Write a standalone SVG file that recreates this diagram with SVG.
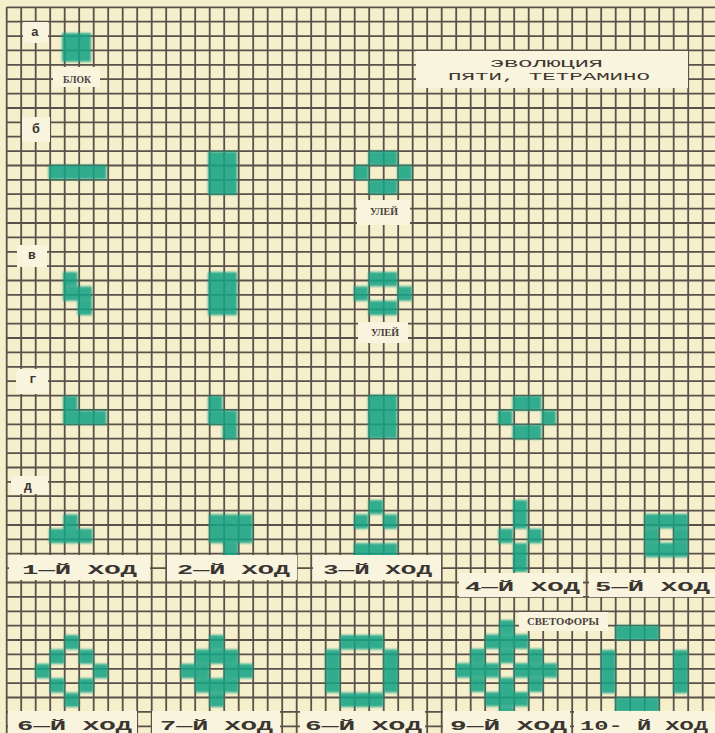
<svg xmlns="http://www.w3.org/2000/svg" width="715" height="733" viewBox="0 0 715 733">
<defs>
<style>
.grid{stroke:#5a514a;stroke-width:1.8;fill:none}
.t{fill:#17a385}
.lb{fill:#f8f4dd}
.mono{font-family:"Liberation Mono","DejaVu Sans Mono",monospace;font-weight:bold;fill:#3b3531}
.ttl{font-family:"Liberation Mono","DejaVu Sans Mono",monospace;font-size:10.5px;fill:#3f3833}
.ser{font-family:"Liberation Serif","DejaVu Serif",serif;font-weight:bold;fill:#4a423d;font-size:9.5px}
.let{font-family:"Liberation Mono","DejaVu Sans Mono",monospace;font-weight:bold;fill:#3b3531;font-size:13px;text-anchor:middle}
</style>
<filter id="soft" x="-5%" y="-5%" width="110%" height="110%"><feGaussianBlur stdDeviation="0.9"/></filter>
</defs>
<rect width="715" height="733" fill="#f5f0cb"/>
<g id="grid" class="grid">
<path d="M6.7 7.3V733M21.2 7.3V733M35.7 7.3V733M50.2 7.3V733M64.7 7.3V733M79.2 7.3V733M93.7 7.3V733M108.2 7.3V733M122.7 7.3V733M137.2 7.3V733M151.7 7.3V733M166.2 7.3V733M180.7 7.3V733M195.2 7.3V733M209.7 7.3V733M224.2 7.3V733M238.7 7.3V733M253.2 7.3V733M267.7 7.3V733M282.2 7.3V733M296.7 7.3V733M311.2 7.3V733M325.7 7.3V733M340.2 7.3V733M354.7 7.3V733M369.2 7.3V733M383.7 7.3V733M398.2 7.3V733M412.7 7.3V733M427.2 7.3V733M441.7 7.3V733M456.2 7.3V733M470.7 7.3V733M485.2 7.3V733M499.7 7.3V733M514.2 7.3V733M528.7 7.3V733M543.2 7.3V733M557.7 7.3V733M572.2 7.3V733M586.7 7.3V733M601.2 7.3V733M615.7 7.3V733M630.2 7.3V733M644.7 7.3V733M659.2 7.3V733M673.7 7.3V733M688.2 7.3V733M702.7 7.3V733"/>
<path d="M6.7 7.3H715M6.7 21.7H715M6.7 36.1H715M6.7 50.4H715M6.7 64.8H715M6.7 79.2H715M6.7 93.6H715M6.7 108H715M6.7 122.3H715M6.7 136.7H715M6.7 151.1H715M6.7 165.5H715M6.7 179.9H715M6.7 194.2H715M6.7 208.6H715M6.7 223H715M6.7 237.4H715M6.7 251.8H715M6.7 266.1H715M6.7 280.5H715M6.7 294.9H715M6.7 309.3H715M6.7 323.7H715M6.7 338H715M6.7 352.4H715M6.7 366.8H715M6.7 381.2H715M6.7 395.6H715M6.7 409.9H715M6.7 424.3H715M6.7 438.7H715M6.7 453.1H715M6.7 467.5H715M6.7 481.8H715M6.7 496.2H715M6.7 510.6H715M6.7 525H715M6.7 539.4H715M6.7 553.7H715M6.7 568.1H715M6.7 582.5H715M6.7 596.9H715M6.7 611.3H715M6.7 625.6H715M6.7 640H715M6.7 654.4H715M6.7 668.8H715M6.7 683.2H715M6.7 697.5H715M6.7 711.9H715M6.7 726.3H715"/>
</g>
<g id="shapes" filter="url(#soft)" opacity="0.88">
<g id="a-block"><rect class="t" x="62" y="33" width="29" height="28.8"/></g>
<g id="b-line"><rect class="t" x="48.5" y="165" width="58" height="14.4"/></g>
<g id="b-gen1"><rect class="t" x="208" y="151.5" width="29" height="43.2"/></g>
<g id="b-hive"><rect class="t" x="368.5" y="151" width="29" height="14.4"/><rect class="t" x="354" y="165.4" width="14.5" height="14.4"/><rect class="t" x="397.5" y="165.4" width="14.5" height="14.4"/><rect class="t" x="368.5" y="179.8" width="29" height="14.4"/></g>
<g id="v-s"><rect class="t" x="63" y="272" width="14.5" height="14.4"/><rect class="t" x="63" y="286.4" width="29" height="14.4"/><rect class="t" x="77.5" y="300.8" width="14.5" height="14.4"/></g>
<g id="v-gen1"><rect class="t" x="208" y="272" width="29" height="43.2"/></g>
<g id="v-hive"><rect class="t" x="368.5" y="272" width="29" height="14.4"/><rect class="t" x="354" y="286.4" width="14.5" height="14.4"/><rect class="t" x="397.5" y="286.4" width="14.5" height="14.4"/><rect class="t" x="368.5" y="300.8" width="29" height="14.4"/></g>
<g id="g-l"><rect class="t" x="63" y="396" width="14.5" height="14.4"/><rect class="t" x="63" y="410.4" width="43.5" height="14.4"/></g>
<g id="g-s"><rect class="t" x="208" y="396" width="14.5" height="14.4"/><rect class="t" x="208" y="410.4" width="29" height="14.4"/><rect class="t" x="222.5" y="424.8" width="14.5" height="14.4"/></g>
<g id="g-block"><rect class="t" x="368" y="395" width="29" height="43.2"/></g>
<g id="g-hive"><rect class="t" x="512.5" y="396" width="29" height="14.4"/><rect class="t" x="498" y="410.4" width="14.5" height="14.4"/><rect class="t" x="541.5" y="410.4" width="14.5" height="14.4"/><rect class="t" x="512.5" y="424.8" width="29" height="14.4"/></g>
<g id="d-1"><rect class="t" x="63.5" y="514.4" width="14.5" height="14.4"/><rect class="t" x="49" y="528.8" width="43.5" height="14.4"/></g>
<g id="d-2"><rect class="t" x="209" y="514.4" width="43.5" height="28.8"/><rect class="t" x="223.5" y="543.2" width="14.5" height="14.4"/></g>
<g id="d-3"><rect class="t" x="368.5" y="500" width="14.5" height="14.4"/><rect class="t" x="354" y="514.4" width="14.5" height="14.4"/><rect class="t" x="383" y="514.4" width="14.5" height="14.4"/><rect class="t" x="354" y="543.2" width="43.5" height="14.4"/></g>
<g id="d-4"><rect class="t" x="513" y="500" width="14.5" height="28.8"/><rect class="t" x="498.5" y="528.8" width="14.5" height="14.4"/><rect class="t" x="527.5" y="528.8" width="14.5" height="14.4"/><rect class="t" x="513" y="543.2" width="14.5" height="28.8"/></g>
<g id="d-5"><rect class="t" x="644.5" y="514" width="43.5" height="14.4"/><rect class="t" x="644.5" y="528.4" width="14.5" height="14.4"/><rect class="t" x="673.5" y="528.4" width="14.5" height="14.4"/><rect class="t" x="644.5" y="542.8" width="43.5" height="14.4"/></g>
<g id="d-6"><rect class="t" x="64.5" y="635" width="14.5" height="14.4"/><rect class="t" x="50" y="649.4" width="14.5" height="14.4"/><rect class="t" x="79" y="649.4" width="14.5" height="14.4"/><rect class="t" x="35.5" y="663.8" width="14.5" height="14.4"/><rect class="t" x="93.5" y="663.8" width="14.5" height="14.4"/><rect class="t" x="50" y="678.2" width="14.5" height="14.4"/><rect class="t" x="79" y="678.2" width="14.5" height="14.4"/><rect class="t" x="64.5" y="692.6" width="14.5" height="14.4"/></g>
<g id="d-7"><rect class="t" x="209.5" y="635" width="14.5" height="14.4"/><rect class="t" x="195" y="649.4" width="43.5" height="14.4"/><rect class="t" x="180.5" y="663.8" width="29" height="14.4"/><rect class="t" x="224" y="663.8" width="29" height="14.4"/><rect class="t" x="195" y="678.2" width="43.5" height="14.4"/><rect class="t" x="209.5" y="692.6" width="14.5" height="14.4"/></g>
<g id="d-8"><rect class="t" x="340" y="635" width="43.5" height="14.4"/><rect class="t" x="325.5" y="649.4" width="14.5" height="43.2"/><rect class="t" x="383.5" y="649.4" width="14.5" height="43.2"/><rect class="t" x="340" y="692.6" width="43.5" height="14.4"/></g>
<g id="d-9"><rect class="t" x="499.5" y="620" width="14.5" height="14.4"/><rect class="t" x="485" y="634.4" width="43.5" height="14.4"/><rect class="t" x="470.5" y="648.8" width="14.5" height="14.4"/><rect class="t" x="499.5" y="648.8" width="14.5" height="14.4"/><rect class="t" x="528.5" y="648.8" width="14.5" height="14.4"/><rect class="t" x="456" y="663.2" width="43.5" height="14.4"/><rect class="t" x="514" y="663.2" width="43.5" height="14.4"/><rect class="t" x="470.5" y="677.6" width="14.5" height="14.4"/><rect class="t" x="499.5" y="677.6" width="14.5" height="14.4"/><rect class="t" x="528.5" y="677.6" width="14.5" height="14.4"/><rect class="t" x="485" y="692" width="43.5" height="14.4"/><rect class="t" x="499.5" y="706.4" width="14.5" height="14.4"/></g>
<g id="d-10"><rect class="t" x="615.5" y="625.5" width="43.5" height="14.4"/><rect class="t" x="601" y="650" width="14.5" height="43.2"/><rect class="t" x="673.5" y="650" width="14.5" height="43.2"/><rect class="t" x="615.5" y="697.5" width="43.5" height="14.4"/></g>
</g>
<g id="labels">
<g id="lbl-a"><rect class="lb" x="23" y="22" width="25" height="21"/><text class="let" x="35" y="36">а</text></g>
<g id="lbl-blok"><rect class="lb" x="53" y="67" width="47" height="20"/><text class="ser" x="63" y="83" textLength="28" lengthAdjust="spacingAndGlyphs">БЛОК</text></g>
<g id="title"><rect class="lb" x="416" y="51" width="272" height="37"/><text class="ttl" x="490" y="67" textLength="113" lengthAdjust="spacingAndGlyphs">ЭВОЛЮЦИЯ</text><text class="ttl" x="448" y="79.5" textLength="202" lengthAdjust="spacingAndGlyphs">ПЯТИ, ТЕТРАМИНО</text></g>
<g id="lbl-b"><rect class="lb" x="22" y="117" width="28" height="25"/><text class="let" x="36" y="133">б</text></g>
<g id="lbl-hive1"><rect class="lb" x="357" y="200" width="53" height="25"/><text class="ser" x="370" y="214.5" textLength="28" lengthAdjust="spacingAndGlyphs">УЛЕЙ</text></g>
<g id="lbl-v"><rect class="lb" x="17" y="245" width="30" height="22"/><text class="let" x="32" y="259">в</text></g>
<g id="lbl-hive2"><rect class="lb" x="358" y="322" width="50" height="21"/><text class="ser" x="371" y="335.5" textLength="28" lengthAdjust="spacingAndGlyphs">УЛЕЙ</text></g>
<g id="lbl-g"><rect class="lb" x="16" y="369" width="32" height="25"/><text class="let" x="33" y="383">г</text></g>
<g id="lbl-d"><rect class="lb" x="11" y="476" width="37" height="18"/><text class="let" x="28" y="490">д</text></g>
<g id="lbl-1"><rect class="lb" x="9" y="555" width="141" height="25"/><text class="mono" font-size="13" x="22" y="574" textLength="115" lengthAdjust="spacingAndGlyphs">1—Й ХОД</text></g>
<g id="lbl-2"><rect class="lb" x="167" y="555" width="130" height="25"/><text class="mono" font-size="13" x="177" y="574" textLength="113" lengthAdjust="spacingAndGlyphs">2—Й ХОД</text></g>
<g id="lbl-3"><rect class="lb" x="313" y="555" width="128" height="25"/><text class="mono" font-size="13" x="323" y="574" textLength="109" lengthAdjust="spacingAndGlyphs">3—Й ХОД</text></g>
<g id="lbl-4"><rect class="lb" x="459" y="573" width="124" height="24"/><text class="mono" font-size="13" x="465" y="591" textLength="115" lengthAdjust="spacingAndGlyphs">4—Й ХОД</text></g>
<g id="lbl-5"><rect class="lb" x="589" y="573" width="126" height="24"/><text class="mono" font-size="13" x="595" y="591" textLength="115" lengthAdjust="spacingAndGlyphs">5—Й ХОД</text></g>
<g id="lbl-lights"><rect class="lb" x="519" y="612" width="89" height="19"/><text class="ser" x="527" y="625" font-size="8" textLength="72" lengthAdjust="spacingAndGlyphs">СВЕТОФОРЫ</text></g>
<g id="lbl-6"><rect class="lb" x="8" y="711" width="129" height="22"/><text class="mono" font-size="13" x="17" y="730" textLength="115" lengthAdjust="spacingAndGlyphs">6—Й ХОД</text></g>
<g id="lbl-7"><rect class="lb" x="152" y="711" width="128" height="22"/><text class="mono" font-size="13" x="160" y="730" textLength="113" lengthAdjust="spacingAndGlyphs">7—Й ХОД</text></g>
<g id="lbl-8"><rect class="lb" x="300" y="711" width="125" height="22"/><text class="mono" font-size="13" x="305" y="730" textLength="117" lengthAdjust="spacingAndGlyphs">6—Й ХОД</text></g>
<g id="lbl-9"><rect class="lb" x="443" y="711" width="127" height="22"/><text class="mono" font-size="13" x="450" y="730" textLength="117" lengthAdjust="spacingAndGlyphs">9—Й ХОД</text></g>
<g id="lbl-10"><rect class="lb" x="574" y="711" width="141" height="22"/><text class="mono" font-size="13" x="580" y="730" textLength="128" lengthAdjust="spacingAndGlyphs">10- Й ХОД</text></g>
</g>
</svg>
